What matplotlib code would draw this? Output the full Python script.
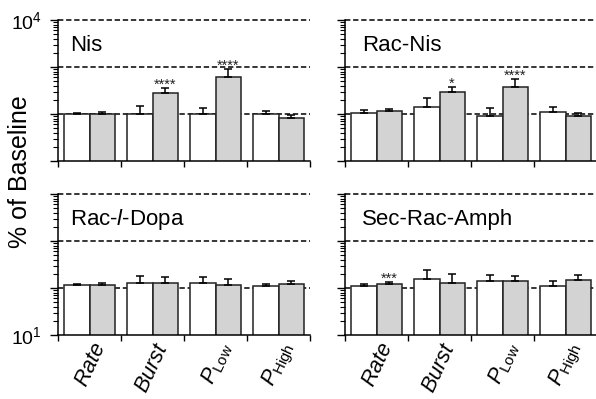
import matplotlib
matplotlib.use("Agg")
import matplotlib.pyplot as plt
import matplotlib.transforms as mtrans
import numpy as np

plt.rcParams['font.family'] = ['Liberation Sans', 'DejaVu Sans']
plt.rcParams['mathtext.fontset'] = 'custom'
plt.rcParams['mathtext.rm'] = 'Liberation Sans'
plt.rcParams['mathtext.it'] = 'Liberation Sans:italic'
plt.rcParams['mathtext.bf'] = 'Liberation Sans:bold'

categories = [r'$Rate$', r'$Burst$', r'$P_{\rm Low}$', r'$P_{\rm High}$']

titles = ['Nis', 'Rac-Nis', r'Rac-$\mathit{l}$-Dopa', 'Sec-Rac-Amph']

nis_ctrl = [100, 100, 100, 100]
nis_ctrl_top = [106, 148, 134, 116]
nis_drug = [101, 280, 613, 84]
nis_drug_top = [108, 357, 907, 95]

racnis_ctrl = [107, 139, 89, 112]
racnis_ctrl_top = [120, 222, 136, 139]
racnis_drug = [114, 289, 370, 92]
racnis_drug_top = [126, 381, 548, 104]

dopa_ctrl = [114, 129, 129, 112]
dopa_ctrl_top = [123, 183, 174, 123]
dopa_drug = [118, 129, 118, 121]
dopa_drug_top = [129, 174, 155, 141]

amph_ctrl = [110, 158, 141, 110]
amph_ctrl_top = [120, 245, 189, 139]
amph_drug = [123, 127, 141, 150]
amph_drug_top = [136, 202, 183, 189]

nis_stars = ['', '****', '****', '']
racnis_stars = ['', '*', '****', '']
dopa_stars = ['', '', '', '']
amph_stars = ['***', '', '', '']

panels = [
    (nis_ctrl, nis_ctrl_top, nis_drug, nis_drug_top, nis_stars),
    (racnis_ctrl, racnis_ctrl_top, racnis_drug, racnis_drug_top, racnis_stars),
    (dopa_ctrl, dopa_ctrl_top, dopa_drug, dopa_drug_top, dopa_stars),
    (amph_ctrl, amph_ctrl_top, amph_drug, amph_drug_top, amph_stars),
]

W, H = 596, 399
fig = plt.figure(figsize=(W / 100, H / 100), dpi=100)

def px_axes(x0, y0, x1, y1):
    return fig.add_axes([x0 / W, 1 - y1 / H, (x1 - x0) / W, (y1 - y0) / H])

boxes = [(58, 20, 310, 161), (345, 20, 597, 161),
         (58, 194, 310, 335), (345, 194, 597, 335)]

minor_vals = [m * 10 ** e for e in (1, 2, 3) for m in range(2, 10)]

edge = '#222222'
for i, (box, (c, ct, d, dt, st)) in enumerate(zip(boxes, panels)):
    ax = px_axes(*box)
    ax.set_yscale('log')
    ax.set_ylim(10, 10000)
    ax.set_xlim(0, 4)
    x = np.arange(len(categories))
    for yv in [100, 1000, 10000]:
        ax.axhline(yv, color='black', lw=1.1, ls=(0, (3.5, 1.8)), zorder=0, clip_on=False)
    c = np.array(c, float); d = np.array(d, float)
    ct = np.array(ct, float); dt = np.array(dt, float)
    ax.bar(x + 0.1, c, width=0.4, align='edge', color='white', edgecolor=edge, lw=1.1, zorder=2)
    ax.bar(x + 0.5, d, width=0.4, align='edge', color='#d3d3d3', edgecolor=edge, lw=1.1, zorder=2)
    ax.errorbar(x + 0.3, c, yerr=[np.zeros_like(c), ct - c], fmt='none', ecolor='black',
                elinewidth=1.1, capsize=2.8, capthick=1.1, zorder=3)
    ax.errorbar(x + 0.7, d, yerr=[np.zeros_like(d), dt - d], fmt='none', ecolor='black',
                elinewidth=1.1, capsize=2.8, capthick=1.1, zorder=3)
    for xi, s, top in zip(x, st, dt):
        if s:
            ax.annotate(s, (xi + 0.7, top), xytext=(0, -0.6), textcoords='offset points',
                        ha='center', va='baseline', fontsize=10.5, color='#222222')
    for sp in ['top', 'right']:
        ax.spines[sp].set_visible(False)
    for sp in ['left', 'bottom']:
        ax.spines[sp].set_linewidth(1.1)
    ax.set_xticks([0, 1, 2, 3, 4])
    ax.set_xticklabels([])
    ax.tick_params(axis='x', which='major', direction='out', length=4, width=1.0)
    ax.set_yticks([10, 100, 1000, 10000])
    ax.yaxis.set_minor_locator(matplotlib.ticker.FixedLocator(minor_vals))
    ax.yaxis.set_minor_formatter(matplotlib.ticker.NullFormatter())
    ax.tick_params(axis='y', which='major', direction='out', length=5.5, width=1.0, labelsize=14, pad=6)
    ax.tick_params(axis='y', which='minor', direction='out', length=3.5, width=0.8)
    if i == 0:
        ax.set_yticklabels(['', '', '', r'$10^4$'])
    elif i == 2:
        ax.set_yticklabels([r'$10^1$', '', '', ''])
    else:
        ax.set_yticklabels(['', '', '', ''])
    tx = 12 if i % 2 == 0 else 17
    ax.text(tx / 252, 0.82, titles[i], transform=ax.transAxes, fontsize=16, ha='left', va='center')
    if i >= 2:
        base = mtrans.blended_transform_factory(ax.transData, ax.transAxes)
        off = mtrans.ScaledTranslation(11 / 100, -8.5 / 100, fig.dpi_scale_trans)
        for xi, lab in zip(x, categories):
            ax.text(xi + 0.5, 0, lab, transform=base + off, rotation=65, ha='right', va='center',
                    rotation_mode='anchor', fontsize=15.5)

fig.text(20 / W, 1 - 171.5 / H, '% of Baseline', rotation=90, ha='center', va='center', fontsize=18)

fig.savefig('out.png', dpi=100)
